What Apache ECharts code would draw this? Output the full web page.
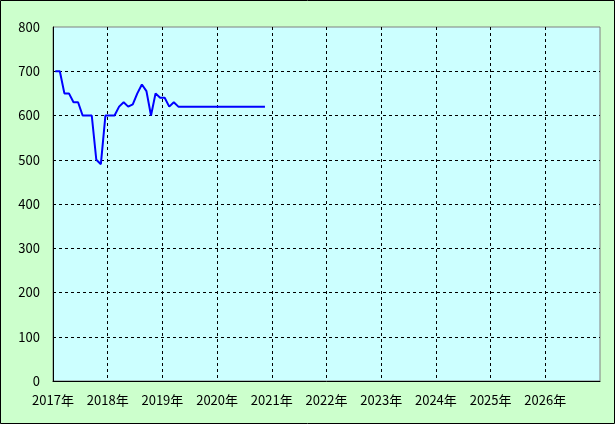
<!DOCTYPE html>
<html><head><meta charset="utf-8">
<script src="https://cdn.jsdelivr.net/npm/echarts@6/dist/echarts.min.js"></script>
<style>html,body{margin:0;padding:0;background:#CCFFCC}#c{width:615px;height:424px}</style>
</head><body><div id="c"></div>
<script>
// Monthly values starting Jan 2017
const startYear = 2017;
const monthlyValues = [700,700,650,650,630,630,600,600,600,500,490,600,
  600,600,620,630,620,625,650,670,655,600,650,640,
  640,620,630,620,620,620,620,620,620,620,620,620,
  620,620,620,620,620,620,620,620,620,620,620];
const yTicks = [0,100,200,300,400,500,600,700,800];
const xYears = [2017,2018,2019,2020,2021,2022,2023,2024,2025,2026];

const data = monthlyValues.map((v,i)=>[startYear + (i+0.5)/12, v]);
const font = '"Noto Sans CJK JP","Noto Sans",sans-serif';
const chart = echarts.init(document.getElementById('c'));
chart.setOption({
  backgroundColor:'#CCFFCC',
  animation:false,
  graphic:[{type:'rect',shape:{x:0.5,y:0.5,width:614,height:423},style:{fill:null,stroke:'#000',lineWidth:1},z:100}],
  grid:{left:53,top:27,right:15,bottom:43,show:true,backgroundColor:'#CCFFFF',borderColor:'#808080',borderWidth:1},
  xAxis:{type:'value',min:2017,max:2027,interval:1,
    axisLine:{show:true,onZero:false,lineStyle:{color:'#000',width:1}},
    axisTick:{show:false},
    axisLabel:{color:'#000',fontSize:13,fontFamily:font,margin:13,
      formatter:v=>xYears.includes(v)?v+'年':''},
    splitLine:{show:true,showMinLine:false,showMaxLine:false,lineStyle:{color:'#000',type:[3,3],width:1}}},
  yAxis:{type:'value',min:yTicks[0],max:yTicks[yTicks.length-1],interval:100,
    axisLine:{show:true,lineStyle:{color:'#000',width:1}},
    axisTick:{show:false},
    axisLabel:{color:'#000',fontSize:13,fontFamily:font,margin:13},
    splitLine:{show:true,showMinLine:false,showMaxLine:false,lineStyle:{color:'#000',type:[3,3],width:1}}},
  series:[{type:'line',data:data,showSymbol:false,lineStyle:{color:'#0000FF',width:2},itemStyle:{color:'#0000FF'}}]
});
</script></body></html>
